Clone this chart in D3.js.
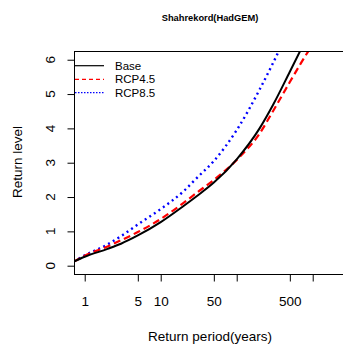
<!DOCTYPE html>
<html>
<head>
<meta charset="utf-8">
<script src="https://cdn.jsdelivr.net/npm/d3@7"></script>
<style>
  html, body { margin: 0; padding: 0; background: #fff; }
  svg { display: block; font-family: "Liberation Sans", Arial, sans-serif; }
</style>
</head>
<body>
<svg id="chart" width="343" height="345"></svg>
<script>
// Data
const returnPeriods = [0.72, 1, 2, 3, 5, 10, 20, 30, 50, 100, 200, 300, 500, 700, 1000];
const baseLevels  = [0.12, 0.26, 0.49, 0.64, 0.88, 1.27, 1.74, 2.03, 2.42, 3.10, 4.00, 4.68, 5.65, 6.30, 7.00];
const rcp45Levels = [0.12, 0.29, 0.56, 0.74, 0.98, 1.36, 1.83, 2.13, 2.50, 3.08, 3.85, 4.50, 5.35, 5.90, 6.45];
const rcp85Levels = [0.12, 0.30, 0.62, 0.86, 1.20, 1.65, 2.17, 2.56, 3.05, 3.95, 5.13, 5.90, 6.95, 7.65, 8.40];
const seriesNames = ["Base", "RCP4.5", "RCP8.5"];
const xTicks = [1, 5, 10, 50, 100, 500, 1000];
const xTickLabels = ["1", "5", "10", "50", "", "500", ""];
const yTicks = [0, 1, 2, 3, 4, 5, 6];
const titleText = "Shahrekord(HadGEM)";
const xTitle = "Return period(years)";
const yTitle = "Return level";

const svg = d3.select("#chart");
const pLeft = 74, pRight = 345, pTop = 51, pBottom = 274;
const axisFont = 13.5;

const x = d3.scaleLog().domain([0.723, 2660]).range([pLeft, pRight]);
const y = d3.scaleLinear().domain([-0.242, 6.254]).range([pBottom, pTop]);

svg.append("defs").append("clipPath").attr("id", "plotclip")
  .append("rect").attr("x", pLeft).attr("y", pTop)
  .attr("width", pRight - pLeft).attr("height", pBottom - pTop);

// Title
svg.append("text").attr("x", 210).attr("y", 21)
  .attr("text-anchor", "middle").attr("font-size", 9.3).attr("font-weight", "bold")
  .text(titleText);

// Series
const styles = [
  { color: "#000000", dash: null, width: 2 },
  { color: "#ff0000", dash: "7,4", width: 2.2 },
  { color: "#0000ff", dash: "2,3.5", width: 2.4 }
];
const allLevels = [baseLevels, rcp45Levels, rcp85Levels];
const line = d3.line().x(d => x(d[0])).y(d => y(d[1])).curve(d3.curveMonotoneX);
const g = svg.append("g").attr("clip-path", "url(#plotclip)");
[2, 1, 0].forEach(i => {
  const pts = returnPeriods.map((t, j) => [t, allLevels[i][j]]);
  g.append("path").datum(pts).attr("d", line)
    .attr("fill", "none").attr("stroke", styles[i].color)
    .attr("stroke-width", styles[i].width)
    .attr("stroke-dasharray", styles[i].dash);
});

// Box
svg.append("rect").attr("x", pLeft + 0.5).attr("y", pTop + 0.5)
  .attr("width", pRight - pLeft).attr("height", pBottom - pTop)
  .attr("fill", "none").attr("stroke", "#000").attr("stroke-width", 1);

// X axis
const xAxis = d3.axisBottom(x).tickValues(xTicks).tickSize(7)
  .tickFormat((d, i) => xTickLabels[i]).tickPadding(15);
const gx = svg.append("g").attr("transform", `translate(0,${pBottom + 0.5})`).call(xAxis);
gx.select(".domain").remove();
gx.selectAll("text").attr("font-size", axisFont).attr("font-family", "Liberation Sans, Arial, sans-serif").attr("fill", "#000");
gx.selectAll("line").attr("stroke", "#000");

// Y axis
const yAxis = d3.axisLeft(y).tickValues(yTicks).tickSize(7).tickFormat(d3.format("d"));
const gy = svg.append("g").attr("transform", `translate(${pLeft + 0.5},0)`).call(yAxis);
gy.select(".domain").remove();
gy.selectAll("line").attr("stroke", "#000");
gy.selectAll("text").remove();
yTicks.forEach(v => {
  svg.append("text")
    .attr("transform", `translate(50.5,${y(v)}) rotate(-90)`)
    .attr("text-anchor", "middle").attr("dy", "0.35em")
    .attr("font-size", axisFont).text(v);
});

// Axis titles
svg.append("text").attr("x", 210).attr("y", 336).attr("dy", "0.35em")
  .attr("text-anchor", "middle").attr("font-size", axisFont).text(xTitle);
svg.append("text").attr("transform", "translate(17,162) rotate(-90)").attr("dy", "0.35em")
  .attr("text-anchor", "middle").attr("font-size", axisFont).text(yTitle);

// Legend
const legendY = [65.7, 79.3, 92.7];
const legendDash = [null, "4,3", "1.5,1.5"];
seriesNames.forEach((name, i) => {
  svg.append("line").attr("x1", 75).attr("x2", 104)
    .attr("y1", legendY[i]).attr("y2", legendY[i])
    .attr("stroke", styles[i].color).attr("stroke-width", 1.2)
    .attr("stroke-dasharray", legendDash[i]);
  svg.append("text").attr("x", 115).attr("y", legendY[i]).attr("dy", "0.35em")
    .attr("font-size", 11.5).text(name);
});
</script>
</body>
</html>
